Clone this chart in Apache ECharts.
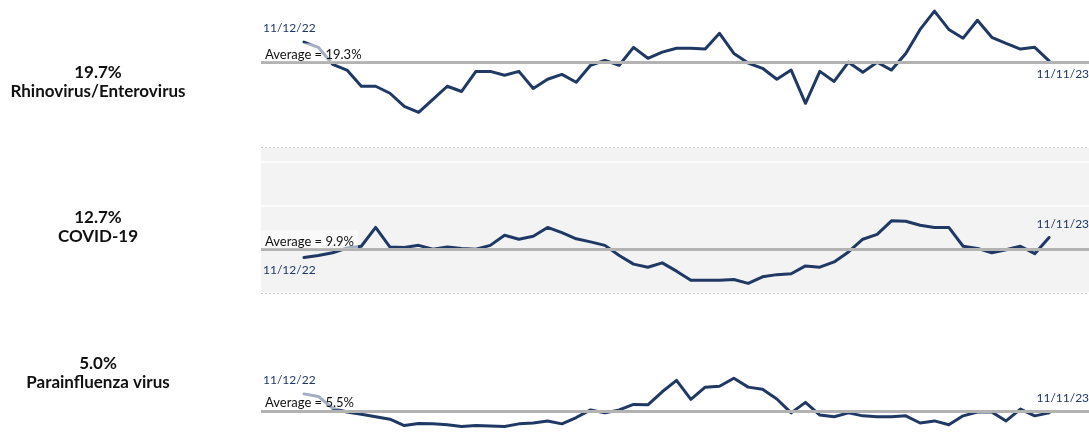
<!DOCTYPE html>
<html><head><meta charset="utf-8">
<script src="https://cdn.jsdelivr.net/npm/echarts/dist/echarts.min.js"></script>
<style>html,body{margin:0;padding:0;background:#fff}#c{width:1089px;height:434px}</style>
</head><body><div id="c"></div>
<script>
// ---- data ----
const names = ['Rhinovirus/Enterovirus', 'COVID-19', 'Parainfluenza virus'];
const averages = [19.3, 9.9, 5.5];
const startLabel = '11/12/22';
const endLabel = '11/11/23';
const firstWeek = '2022-11-12';
const weekCount = 53;
const rhino = [24.0,22.8,18.9,17.6,13.9,13.9,12.3,9.3,7.9,10.9,13.9,12.7,17.3,17.3,16.4,17.3,13.4,15.5,16.6,14.8,18.7,19.8,18.7,22.8,20.3,21.7,22.6,22.6,22.4,26.0,21.4,19.2,18.0,15.5,17.6,10.0,17.3,15.0,19.4,17.1,19.4,17.6,21.4,26.9,31.1,26.9,24.9,29.0,25.1,23.7,22.4,22.8,19.7];
const covid = [8.1,8.6,9.2,10.3,10.7,15.0,10.5,10.4,10.9,10.0,10.5,10.2,10.0,10.9,13.2,12.3,13.0,15.0,13.8,12.4,11.7,10.9,8.6,6.6,5.9,6.9,5.0,2.9,2.9,2.9,3.1,2.2,3.7,4.2,4.4,6.2,5.9,7.1,9.4,12.3,13.4,16.5,16.4,15.5,15.0,15.0,10.7,10.2,9.2,9.9,10.7,9.0,12.7];
const para = [9.5,8.9,6.1,5.2,4.7,4.1,3.5,2.0,2.5,2.4,2.2,1.8,2.0,1.9,1.8,2.4,2.6,3.1,2.4,3.9,5.7,5.0,5.7,7.0,6.9,10.0,12.7,8.2,11.1,11.3,13.2,11.1,10.6,8.3,5.0,7.5,4.5,4.1,5.0,4.3,4.1,4.1,4.3,2.6,3.1,2.2,4.3,5.2,5.2,3.1,5.9,4.3,5.0];
const seriesValues = [rhino, covid, para];

// ---- layout / style ----
const DAY = 86400000;
const t0 = Date.parse(firstWeek + 'T00:00:00Z');
const dates = Array.from({length: weekCount}, (_, i) => t0 + i * 7 * DAY);
const xMin = dates[0] - 21 * DAY;
const xMax = dates[weekCount - 1] + 19.5 * DAY;
const yMax = 33.4;
const NAVY = '#1f3864';
const FONT = 'Lato, "Open Sans", sans-serif';
const gridTops = [1, 147, 293];
const panelH = 146;
const labelCenters = [82, 227.5, 373.5];
const firstDy = [-14, 12.5, -13.5];
const lastDy = [13.5, -13.5, -14.5];

const chart = echarts.init(document.getElementById('c'), null, {renderer: 'canvas'});

const grid = [], xAxis = [], yAxis = [], series = [];
seriesValues.forEach((vals, k) => {
  grid.push({left: 261, right: 0, top: gridTops[k], height: panelH,
    show: k === 1, backgroundColor: '#f3f3f3', borderWidth: 0});
  xAxis.push({type: 'time', gridIndex: k, min: xMin, max: xMax, show: false});
  yAxis.push({type: 'value', gridIndex: k, min: 0, max: yMax, interval: 10,
    axisLabel: {show: false}, axisTick: {show: false}, axisLine: {show: false},
    splitLine: {show: true, lineStyle: {color: '#ffffff', width: 1.5}}});

  const ml = [{yAxis: averages[k], lineStyle: {color: '#b3b3b3', width: 3, type: 'solid'}}];
  if (k === 1) {
    ml.push({yAxis: 0, lineStyle: {color: '#c9c9c9', width: 1, type: [2, 2]}});
    ml.push({yAxis: yMax, lineStyle: {color: '#c9c9c9', width: 1, type: [2, 2]}});
  }
  series.push({type: 'line', xAxisIndex: k, yAxisIndex: k, data: [], z: 1, silent: true,
    markLine: {silent: true, symbol: 'none', animation: false, label: {show: false}, data: ml}});

  series.push({type: 'line', name: names[k], xAxisIndex: k, yAxisIndex: k, z: 2, silent: true,
    data: dates.map((d, i) => [d, vals[i]]), showSymbol: false, symbol: 'none',
    lineStyle: {color: NAVY, width: 3, join: 'round', cap: 'round'}});
});

chart.setOption({animation: false, grid, xAxis, yAxis, series});

// annotations positioned through the chart's own scales
const measureCtx = document.createElement('canvas').getContext('2d');
measureCtx.font = '13px ' + FONT;
const graphic = [];
seriesValues.forEach((vals, k) => {
  const last = vals.length - 1;
  const pAvg = chart.convertToPixel({gridIndex: k}, [xMin, averages[k]]);
  const pFirst = chart.convertToPixel({gridIndex: k}, [dates[0], vals[0]]);
  const pLast = chart.convertToPixel({gridIndex: k}, [dates[last], vals[last]]);
  const avgText = 'Average = ' + averages[k].toFixed(1) + '%';
  const w = measureCtx.measureText(avgText).width;
  graphic.push({type: 'rect', z: 99, silent: true,
    shape: {x: pAvg[0], y: pAvg[1] - 1.5 - 18, width: w + 8, height: 18},
    style: {fill: 'rgba(255,255,255,0.6)'}});
  graphic.push({type: 'text', x: pAvg[0] + 4, y: pAvg[1] - 8, z: 100, silent: true,
    style: {text: avgText, font: '13px ' + FONT, fill: '#111', align: 'left', verticalAlign: 'middle'}});
  graphic.push({type: 'text', x: pFirst[0] - 41, y: pFirst[1] + firstDy[k], z: 100, silent: true,
    style: {text: startLabel, font: '12px ' + FONT, fill: NAVY, align: 'left', verticalAlign: 'middle'}});
  graphic.push({type: 'text', x: pLast[0] + 40, y: pLast[1] + lastDy[k], z: 100, silent: true,
    style: {text: endLabel, font: '12px ' + FONT, fill: NAVY, align: 'right', verticalAlign: 'middle'}});
  graphic.push({type: 'text', x: 98, y: labelCenters[k], z: 100, silent: true,
    style: {text: vals[last].toFixed(1) + '%\n' + names[k], font: 'bold 17px ' + FONT,
      align: 'center', verticalAlign: 'middle', lineHeight: 19, fill: '#111'}});
});
chart.setOption({graphic});
</script>
</body></html>
